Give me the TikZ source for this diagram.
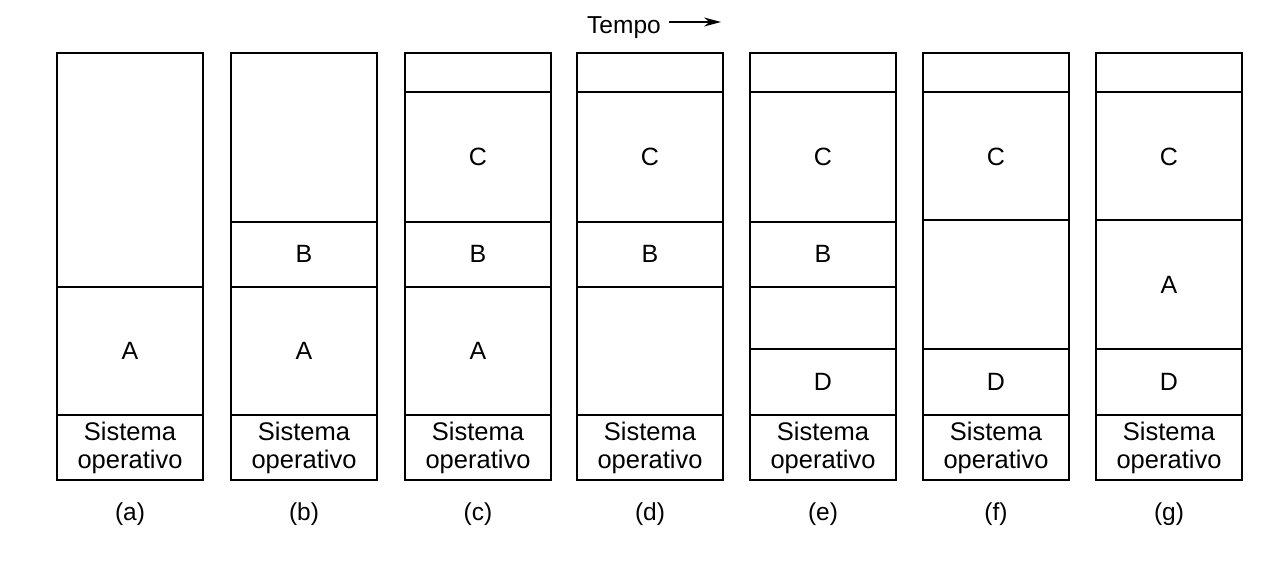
\documentclass[tikz,border=0pt]{standalone}
\usepackage{fontspec}
\setmainfont{Liberation Sans}
\usetikzlibrary{arrows.meta}
\begin{document}
\begin{tikzpicture}[x=1pt,y=-1pt,
  seg/.style={draw=black,line width=1.8pt},
  lbl/.style={font=\fontsize{25}{29}\selectfont,inner sep=0pt},
  oslbl/.style={font=\fontsize{25.5}{28}\selectfont,align=center,inner sep=0pt},
  captxt/.style={font=\fontsize{24.5}{28}\selectfont,inner sep=0pt}]
\useasboundingbox (0,0) rectangle (1280,564);
\def\W{146}
% columns: left x positions
\foreach \name/\L in {a/57,b/231,c/405,d/577,e/750,f/923,g/1096}{
  \draw[seg] (\L,53) rectangle ++(\W,427);
  \draw[seg] (\L,415) -- ++(\W,0);
  \node[oslbl] (os\name) at (\L+73,448) {Sistema\\operativo};
  \node[captxt] (cap\name) at (\L+73,514) {(\name)};
}
% (a)
\draw[seg] (57,287) -- ++(\W,0);
\node[lbl] (aA) at (130,351) {A};
% (b)
\draw[seg] (231,222) -- ++(\W,0);
\draw[seg] (231,287) -- ++(\W,0);
\node[lbl] (bB) at (304,254) {B};
\node[lbl] (bA) at (304,351) {A};
% (c)
\draw[seg] (405,92) -- ++(\W,0);
\draw[seg] (405,222) -- ++(\W,0);
\draw[seg] (405,287) -- ++(\W,0);
\node[lbl] (cC) at (478,157) {C};
\node[lbl] (cB) at (478,254) {B};
\node[lbl] (cA) at (478,351) {A};
% (d)
\draw[seg] (577,92) -- ++(\W,0);
\draw[seg] (577,222) -- ++(\W,0);
\draw[seg] (577,287) -- ++(\W,0);
\node[lbl] (dC) at (650,157) {C};
\node[lbl] (dB) at (650,254) {B};
% (e)
\draw[seg] (750,92) -- ++(\W,0);
\draw[seg] (750,222) -- ++(\W,0);
\draw[seg] (750,287) -- ++(\W,0);
\draw[seg] (750,349) -- ++(\W,0);
\node[lbl] (eC) at (823,157) {C};
\node[lbl] (eB) at (823,254) {B};
\node[lbl] (eD) at (823,382) {D};
% (f)
\draw[seg] (923,92) -- ++(\W,0);
\draw[seg] (923,220) -- ++(\W,0);
\draw[seg] (923,349) -- ++(\W,0);
\node[lbl] (fC) at (996,157) {C};
\node[lbl] (fD) at (996,382) {D};
% (g)
\draw[seg] (1096,92) -- ++(\W,0);
\draw[seg] (1096,220) -- ++(\W,0);
\draw[seg] (1096,349) -- ++(\W,0);
\node[lbl] (gC) at (1169,157) {C};
\node[lbl] (gA) at (1169,285) {A};
\node[lbl] (gD) at (1169,382) {D};
% time
\node[captxt,anchor=west] (tempo) at (587,28) {Tempo};
\coordinate (tend) at (721,22);
\draw[line width=1.4pt,-{Stealth[length=17pt,width=9pt]}] (669,22) -- (tend);
\end{tikzpicture}
\end{document}
